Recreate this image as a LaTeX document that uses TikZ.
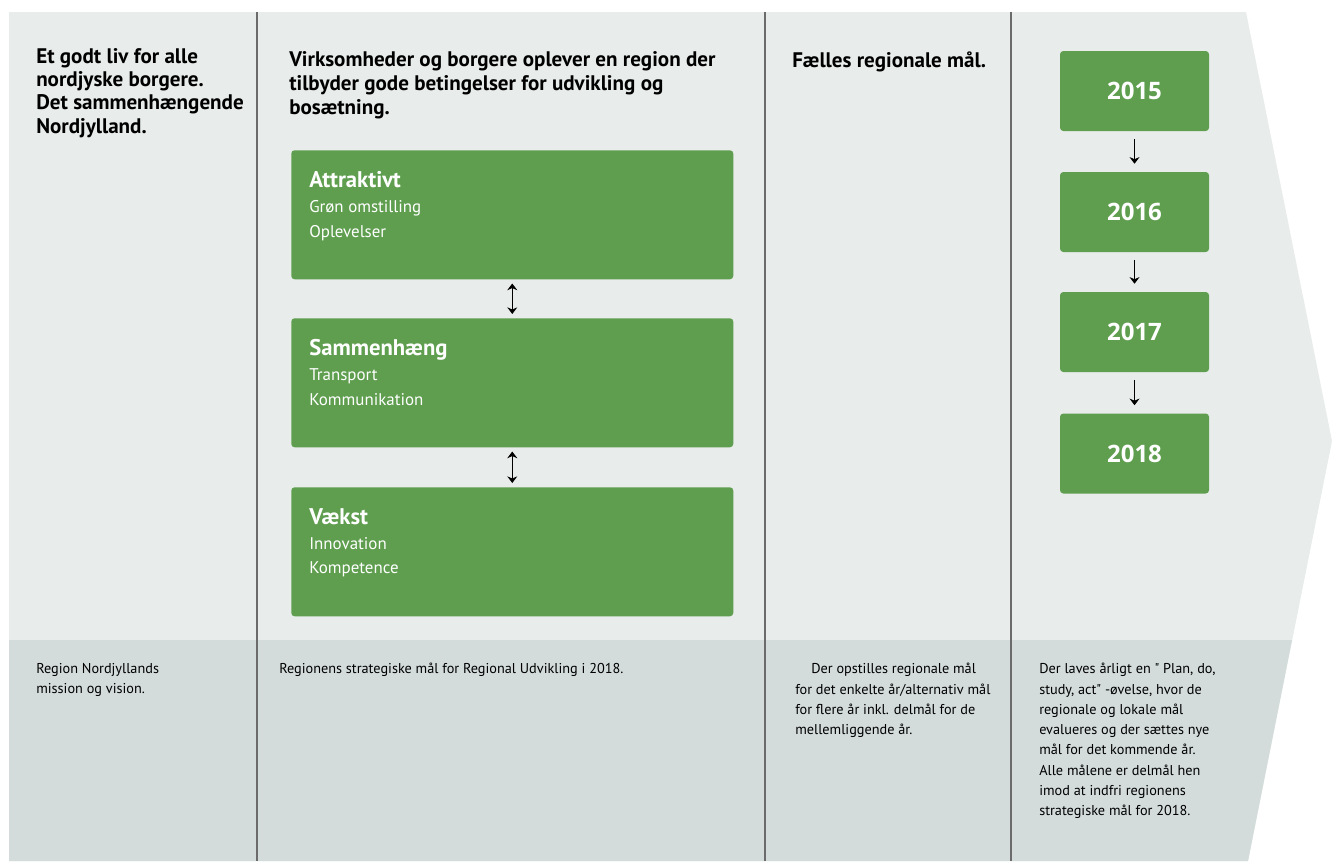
\documentclass[tikz,border=0pt]{standalone}
\usepackage{fontspec}
\setmainfont{PT Sans}[Ligatures=TeXOff]
\newfontfamily\yearfont{Open Sans}
\usetikzlibrary{positioning,arrows.meta}
\definecolor{bglight}{HTML}{E8ECEB}
\definecolor{bgdark}{HTML}{D3DCDB}
\definecolor{leafgreen}{HTML}{5E9E4E}
\definecolor{rulegrey}{HTML}{6B6B6B}
\newcommand{\goaltitlefont}{\bfseries\fontsize{17}{18.5}\selectfont}

\begin{document}
\begin{tikzpicture}[x=0.75pt,y=-0.75pt,>={Stealth[length=5pt,width=7.5pt]},
  heading/.style={anchor=north west,inner sep=0pt,align=left,font=\bfseries\fontsize{15.8}{17.5}\selectfont},
  note/.style={anchor=north west,inner sep=0pt,align=left,font=\fontsize{10.7}{15.2}\selectfont},
  goalbox/.style={fill=leafgreen,rounded corners=2.5pt,minimum width=331.5pt,minimum height=96.75pt,inner sep=0pt,anchor=north west},
  goaltext/.style={inner sep=0pt,align=left,text=white,font=\fontsize{12.7}{18.5}\selectfont},
  yearbox/.style={fill=leafgreen,rounded corners=2.5pt,minimum width=111.75pt,minimum height=60pt,inner sep=0pt,text=white,font=\yearfont\bfseries\fontsize{18}{20}\selectfont},
  link/.style={semithick,shorten <=3pt,shorten >=3pt},
  step link/.style={semithick,shorten <=6pt,shorten >=6pt}]
  \useasboundingbox (0,0) rectangle (1338,861);
  % backdrop with arrow point
  \fill[bglight] (9,12) -- (1246,12) -- (1332,441) -- (1248,861) -- (9,861) -- cycle;
  \fill[bgdark] (9,640) -- (1292,640) -- (1248,861) -- (9,861) -- cycle;
  \foreach \x in {257,765,1011}
    \draw[rulegrey,line width=1.5pt] (\x,12) -- (\x,861);

  % headings
  \node[heading] (vision) at (36,48) {Et godt liv for alle\\nordjyske borgere.\\Det sammenhængende\\Nordjylland.};
  \node[heading,font=\bfseries\fontsize{15.8}{18}\selectfont] (strategy) at (289,51) {Virksomheder og borgere oplever en region der\\tilbyder gode betingelser for udvikling og\\bosætning.};
  \node[heading] (common) at (792,52) {Fælles regionale mål.};

  % strategic goals
  \node[goalbox] (attr) at (291,150) {};
  \node[goalbox] (samm) at (291,318) {};
  \node[goalbox] (vaek) at (291,487) {};
  \node[goaltext,below right=16pt and 13.5pt of attr.north west] (attrtext) {{\goaltitlefont Attraktivt}\\Grøn omstilling\\Oplevelser};
  \node[goaltext,below right=16pt and 13.5pt of samm.north west] (sammtext) {{\goaltitlefont Sammenhæng}\\Transport\\Kommunikation};
  \node[goaltext,below right=16pt and 13.5pt of vaek.north west] (vaektext) {{\goaltitlefont Vækst}\\Innovation\\Kompetence};
  \path[<->]
    (attr) edge[link] (samm)
    (samm) edge[link] (vaek);

  % yearly goals
  \node[yearbox] (y15) at (1134.5,91) {2015};
  \node[yearbox] (y16) at (1134.5,212) {2016};
  \node[yearbox] (y17) at (1134.5,332) {2017};
  \node[yearbox] (y18) at (1134.5,453.5) {2018};
  \path[->]
    (y15) edge[step link] (y16)
    (y16) edge[step link] (y17)
    (y17) edge[step link] (y18);

  % notes
  \node[note] (n1) at (36,663) {Region Nordjyllands\\mission og vision.};
  \node[note] (n2) at (279,663) {Regionens strategiske mål for Regional Udvikling i 2018.};
  \node[note] (n3) at (795,663) {\hspace*{12pt}Der opstilles regionale mål\\for det enkelte år/alternativ mål\\for flere år inkl. delmål for de\\mellemliggende år.};
  \node[note] (n4) at (1039,663) {Der laves årligt en " Plan, do,\\study, act" -øvelse, hvor de\\regionale og lokale mål\\evalueres og der sættes nye\\mål for det kommende år.\\Alle målene er delmål hen\\imod at indfri regionens\\strategiske mål for 2018.};
\end{tikzpicture}
\end{document}
